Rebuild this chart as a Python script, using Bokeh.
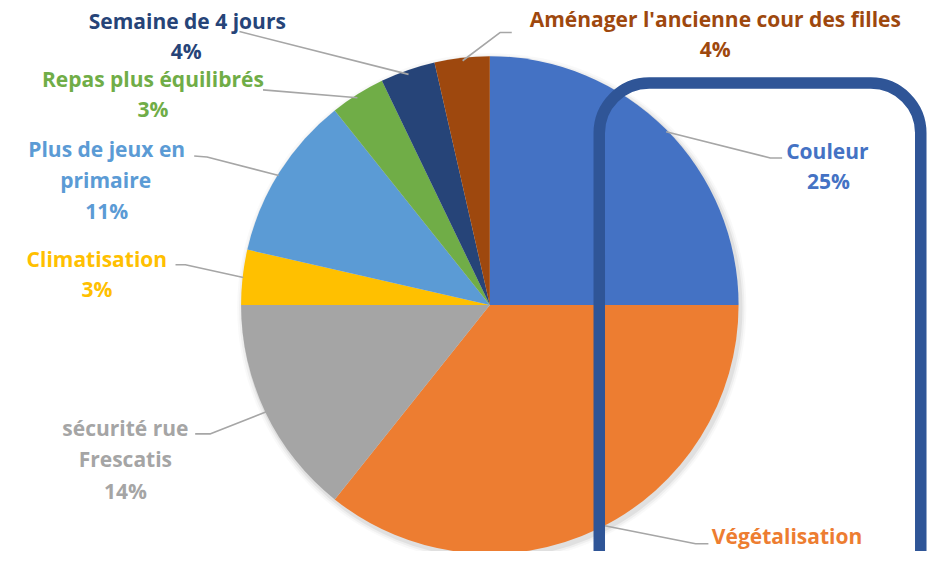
import math
from bokeh.plotting import figure
from bokeh.models import Range1d, BoxAnnotation, ColumnDataSource
from bokeh.core.properties import value
from bokeh.embed import file_html
from bokeh.resources import INLINE

# ---------------- data ----------------
categories = ["Couleur", "Végétalisation", "sécurité rue Frescatis", "Climatisation",
              "Plus de jeux en primaire", "Repas plus équilibrés", "Semaine de 4 jours",
              "Aménager l'ancienne cour des filles"]
counts = [7, 10, 4, 1, 3, 1, 1, 1]
pct_labels = ["25%", "36%", "14%", "3%", "11%", "3%", "4%", "4%"]
colors = ["#4472C4", "#ED7D31", "#A5A5A5", "#FFC000", "#5B9BD5", "#70AD47", "#264478", "#9E480E"]
label_colors = ["#4472C4", "#ED7D31", "#A5A5A5", "#FFC000", "#5B9BD5", "#70AD47", "#264478", "#9E480E"]

# ---------------- layout (reference-image pixel coords) ----------------
W, H = 936, 551          # figure size in screen pixels
RW, RH = 952, 567        # reference coordinate frame
def py(y):
    return RH - y

CX, CY, R = 497.7, 313.3, 253

label_lines = [
    ["Couleur", pct_labels[0]],
    ["Végétalisation"],
    ["sécurité rue", "Frescatis", pct_labels[2]],
    ["Climatisation", pct_labels[3]],
    ["Plus de jeux en", "primaire", pct_labels[4]],
    ["Repas plus équilibrés", pct_labels[5]],
    ["Semaine de 4 jours", pct_labels[6]],
    ["Aménager l'ancienne cour des filles", pct_labels[7]],
]
label_pos = [
    [(841, 155), (842, 186)],
    [(800, 551)],
    [(127, 440), (127, 472), (127, 505)],
    [(98, 266), (98, 297)],
    [(108, 153), (107, 185), (108, 217)],
    [(155, 81), (155, 112)],
    [(190, 21), (189, 52)],
    [(727, 19), (727, 50)],
]
leaders = [
    [(677, 135), (783, 162), (795, 162)],
    [(612, 540), (707, 559), (720, 559)],
    [(198, 446), (213, 446), (271, 423)],
    [(178, 272), (188, 272), (247, 285)],
    [(197, 160), (210, 161), (283, 180)],
    [(267, 92), (363, 100)],
    [(243, 32), (415, 76)],
    [(470, 62), (508, 33), (520, 33)],
]

p = figure(width=W, height=H, output_backend="svg", toolbar_location=None,
           x_range=Range1d(0, RW), y_range=Range1d(0, RH), min_border=0)
p.axis.visible = False
p.grid.visible = False
p.outline_line_color = None
p.background_fill_color = "white"
p.border_fill_color = "white"

# soft shadow
for k, a in [(6, 0.025), (4, 0.04), (2, 0.06)]:
    p.circle(x=[CX + 2], y=[py(CY) - 3], radius=R + k, radius_units="data",
             fill_color="black", fill_alpha=a, line_color=None)

# wedges, clockwise from top
total = float(sum(counts))
starts, ends = [], []
cum = 0.0
for c in counts:
    starts.append(math.pi / 2 - 2 * math.pi * cum / total)
    cum += c
    ends.append(math.pi / 2 - 2 * math.pi * cum / total)

src = ColumnDataSource(dict(x=[CX] * len(counts), y=[py(CY)] * len(counts),
                            start=starts, end=ends, color=colors, cat=categories,
                            value=counts))
p.wedge(x="x", y="y", radius=R, radius_units="data", start_angle="start", end_angle="end",
        direction="clock", fill_color="color", line_color=None, source=src)

# leader lines
p.multi_line(xs=[[a for a, b in l] for l in leaders],
             ys=[[py(b) for a, b in l] for l in leaders],
             line_color="#A6A6A6", line_width=1.6)

# rounded rectangle highlight
box = BoxAnnotation(left=609, right=936, top=py(85), bottom=py(660),
                    fill_alpha=0, line_color="#2F5597", line_alpha=1.0,
                    line_width=11.5, border_radius=50)
p.add_layout(box)

# labels
tx, ty, tt, tc = [], [], [], []
for i, lines in enumerate(label_lines):
    for t, (x, y) in zip(lines, label_pos[i]):
        tx.append(x); ty.append(py(y)); tt.append(t); tc.append(label_colors[i])
p.text(x=tx, y=ty, text=tt, text_color=tc, text_font=value("Open Sans"),
       text_font_style="bold", text_font_size="21px", text_align="center",
       text_baseline="middle")

open("out.html", "w").write(file_html(p, INLINE))
